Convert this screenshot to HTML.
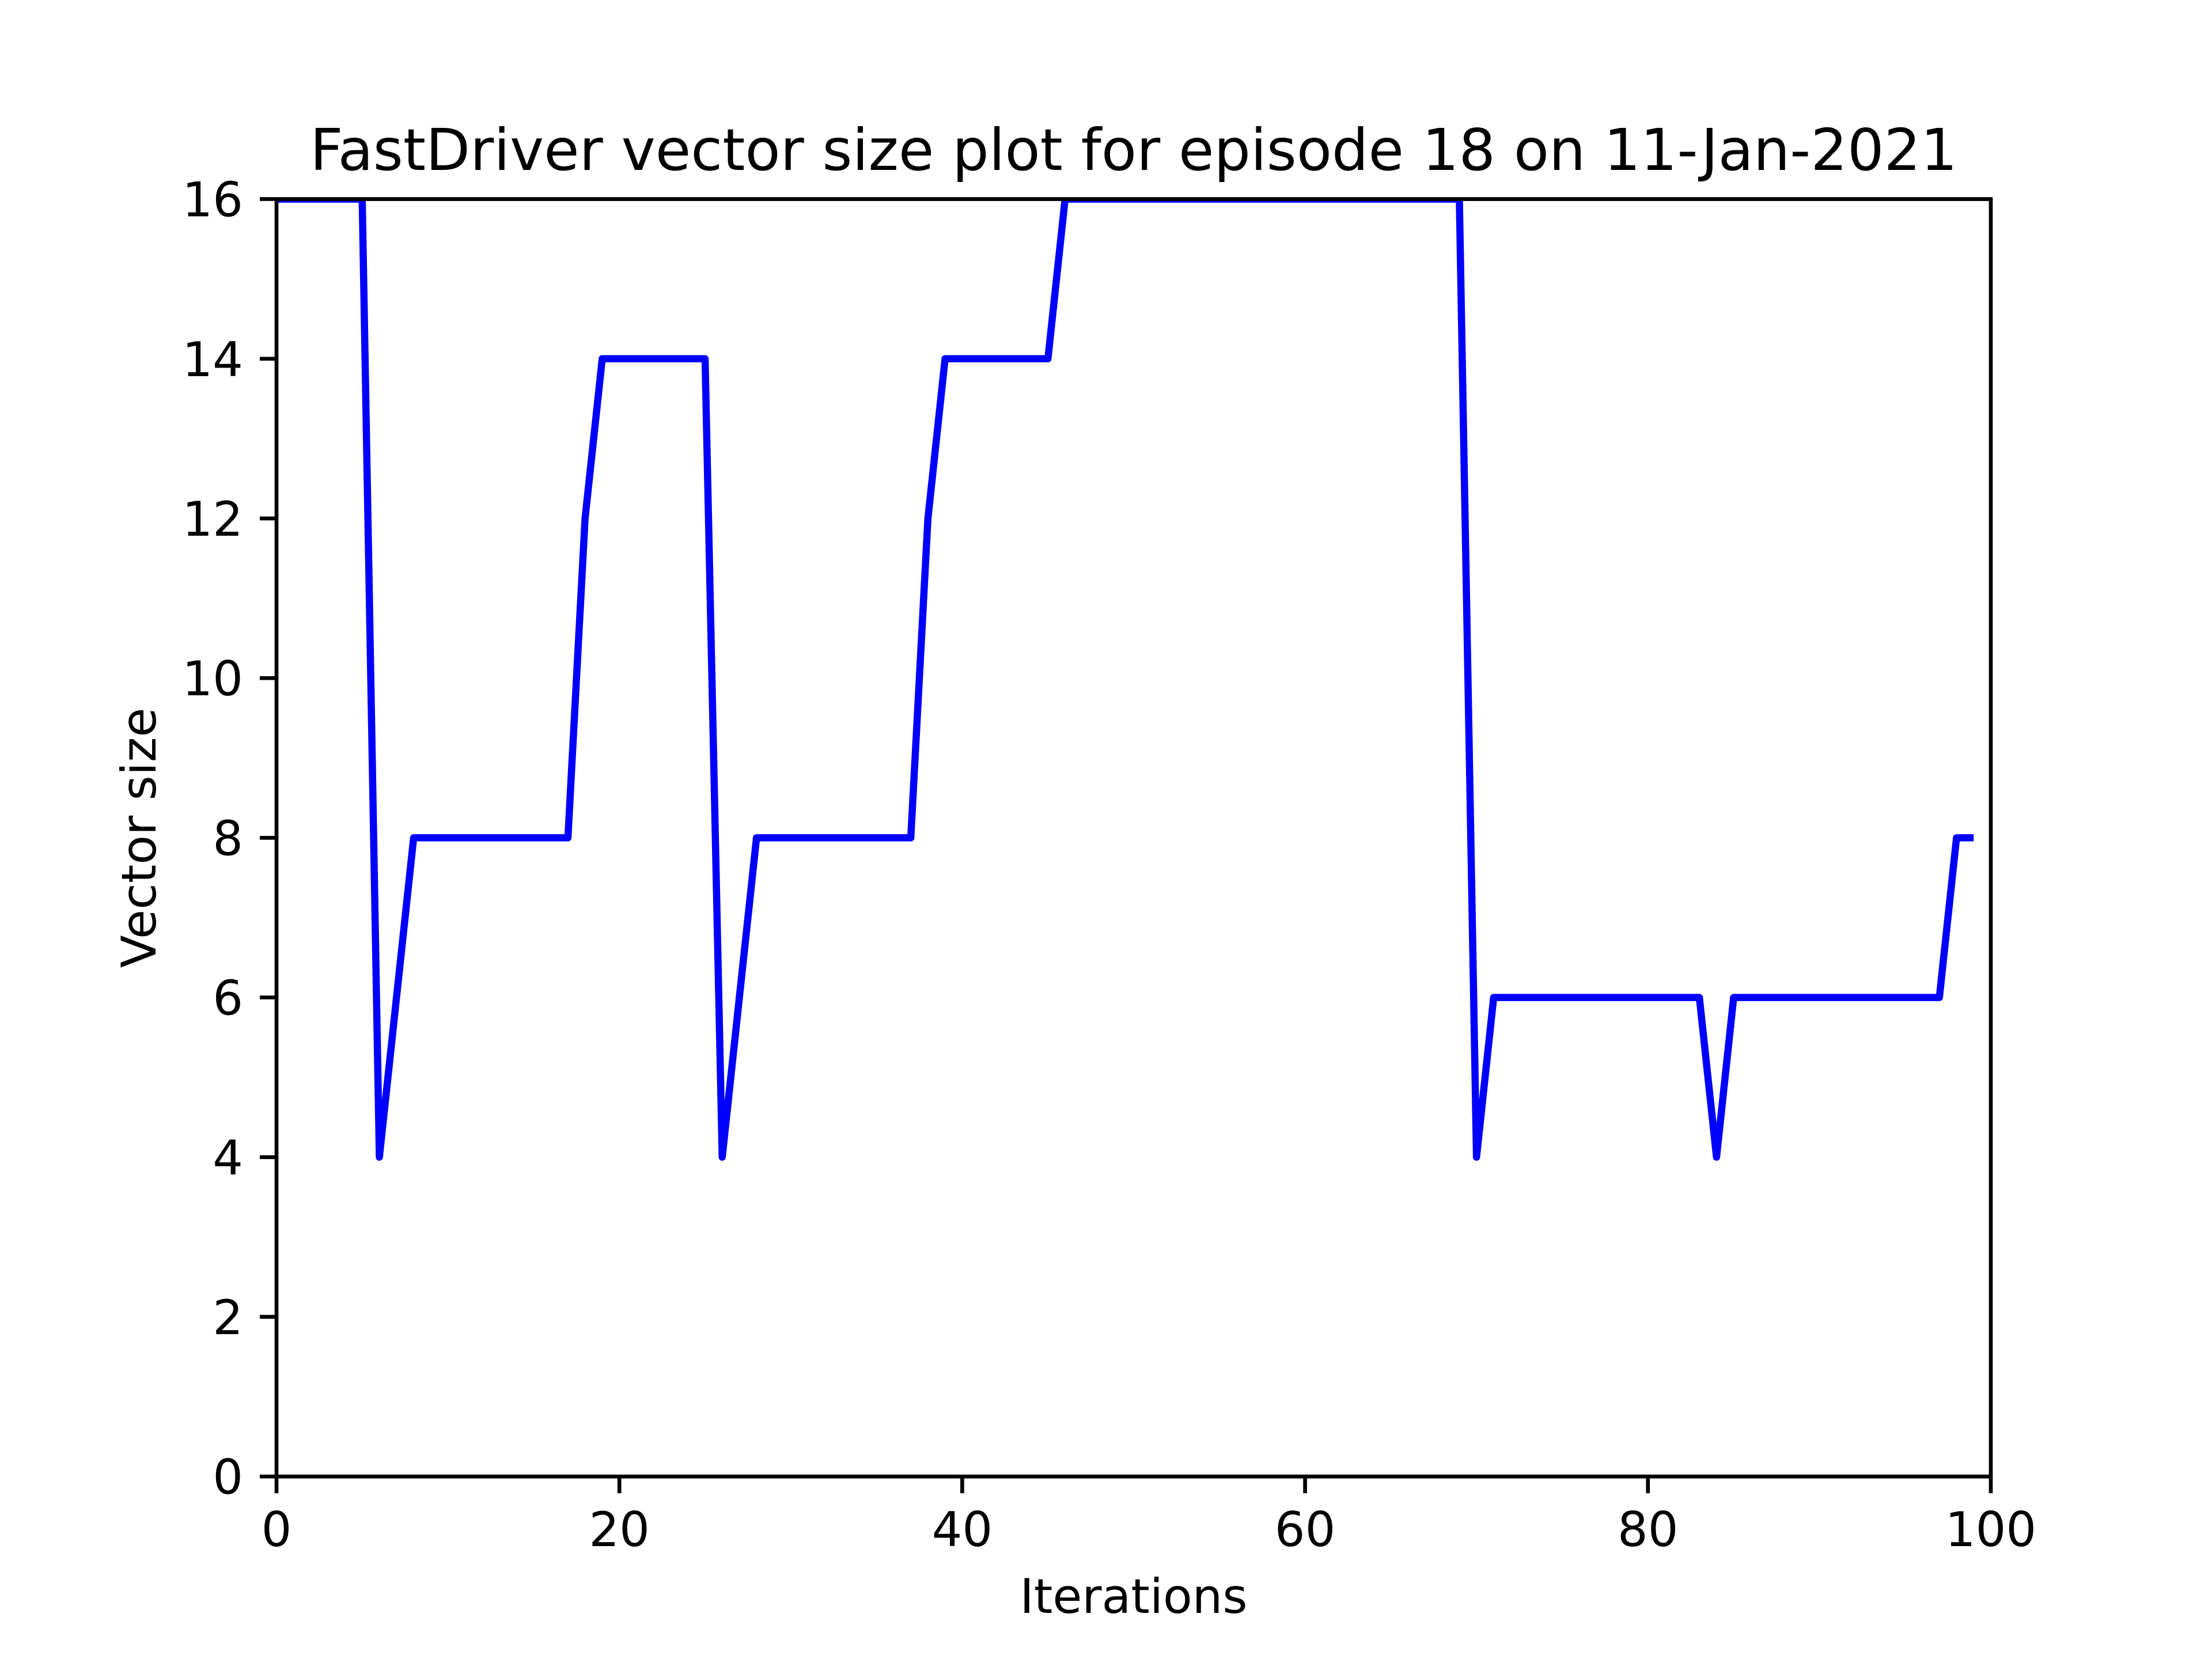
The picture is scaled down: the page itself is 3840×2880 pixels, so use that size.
<!DOCTYPE html>
<html><head><meta charset="utf-8"><style>body{margin:0;background:#fff}svg{display:block}</style></head>
<body>
<svg id="chart" width="3840" height="2880" xmlns="http://www.w3.org/2000/svg" font-family="DejaVu Sans, Liberation Sans, sans-serif">
<rect width="3840" height="2880" fill="#fff"/>
<g id="plot"></g>
</svg>
<script>
const xTicks = [0, 20, 40, 60, 80, 100];
const yTicks = [0, 2, 4, 6, 8, 10, 12, 14, 16];
const iterations = Array.from({length: 100}, (_, i) => i);
const vectorSize = [16,16,16,16,16,16,4,6,8,8, 8,8,8,8,8,8,8,8,12,14, 14,14,14,14,14,14,4,6,8,8, 8,8,8,8,8,8,8,8,12,14, 14,14,14,14,14,14,16,16,16,16,
16,16,16,16,16,16,16,16,16,16, 16,16,16,16,16,16,16,16,16,16, 4,6,6,6,6,6,6,6,6,6, 6,6,6,6,4,6,6,6,6,6, 6,6,6,6,6,6,6,6,8,8];

const L = 480, R = 3456, T = 345.6, B = 2563.2;
const sx = v => L + (v - 0) / 100 * (R - L);
const sy = v => B - (v - 0) / 16 * (B - T);
const NS = 'http://www.w3.org/2000/svg';
const g = document.getElementById('plot');
function mk(tag, attrs, text) {
  const e = document.createElementNS(NS, tag);
  for (const k in attrs) e.setAttribute(k, attrs[k]);
  if (text !== undefined) e.textContent = text;
  g.appendChild(e);
  return e;
}
const defs = document.createElementNS(NS, 'defs');
defs.innerHTML = '<clipPath id="clip"><rect x="' + L + '" y="' + T + '" width="' + (R - L) + '" height="' + (B - T) + '"/></clipPath>';
g.appendChild(defs);
let d = iterations.map((x, i) => (i ? 'L' : 'M') + sx(x) + ' ' + sy(vectorSize[i])).join(' ');
const line = mk('path', {d: d, fill: 'none', stroke: '#0000ff', 'stroke-width': 12.5, 'stroke-linejoin': 'round', 'clip-path': 'url(#clip)'});


const frame = mk('rect', {x: L, y: T, width: R - L, height: B - T, fill: 'none', stroke: '#000', 'stroke-width': 6.67});


xTicks.forEach(v => {
  const t = mk('line', {x1: sx(v), x2: sx(v), y1: B, y2: B + 29, stroke: '#000', 'stroke-width': 6.67});
  
  
  const lb = mk('text', {x: sx(v), y: B + 58 + 63, 'font-size': 83, 'text-anchor': 'middle'}, String(v));
  
  
});
yTicks.forEach(v => {
  const t = mk('line', {x1: L - 29, x2: L, y1: sy(v), y2: sy(v), stroke: '#000', 'stroke-width': 6.67});
  
  
  const lb = mk('text', {x: L - 58, y: sy(v) + 30, 'font-size': 83, 'text-anchor': 'end'}, String(v));
  
  
});
const title = mk('text', {x: (L + R) / 2, y: 295, 'font-size': 100, 'text-anchor': 'middle'}, 'FastDriver vector size plot for episode 18 on 11-Jan-2021');


const xl = mk('text', {x: (L + R) / 2, y: 2800, 'font-size': 83, 'text-anchor': 'middle'}, 'Iterations');


const yl = mk('text', {x: 0, y: 0, 'font-size': 83, 'text-anchor': 'middle', transform: 'translate(270,' + ((T + B) / 2) + ') rotate(-90)'}, 'Vector size');


</script>
</body></html>
